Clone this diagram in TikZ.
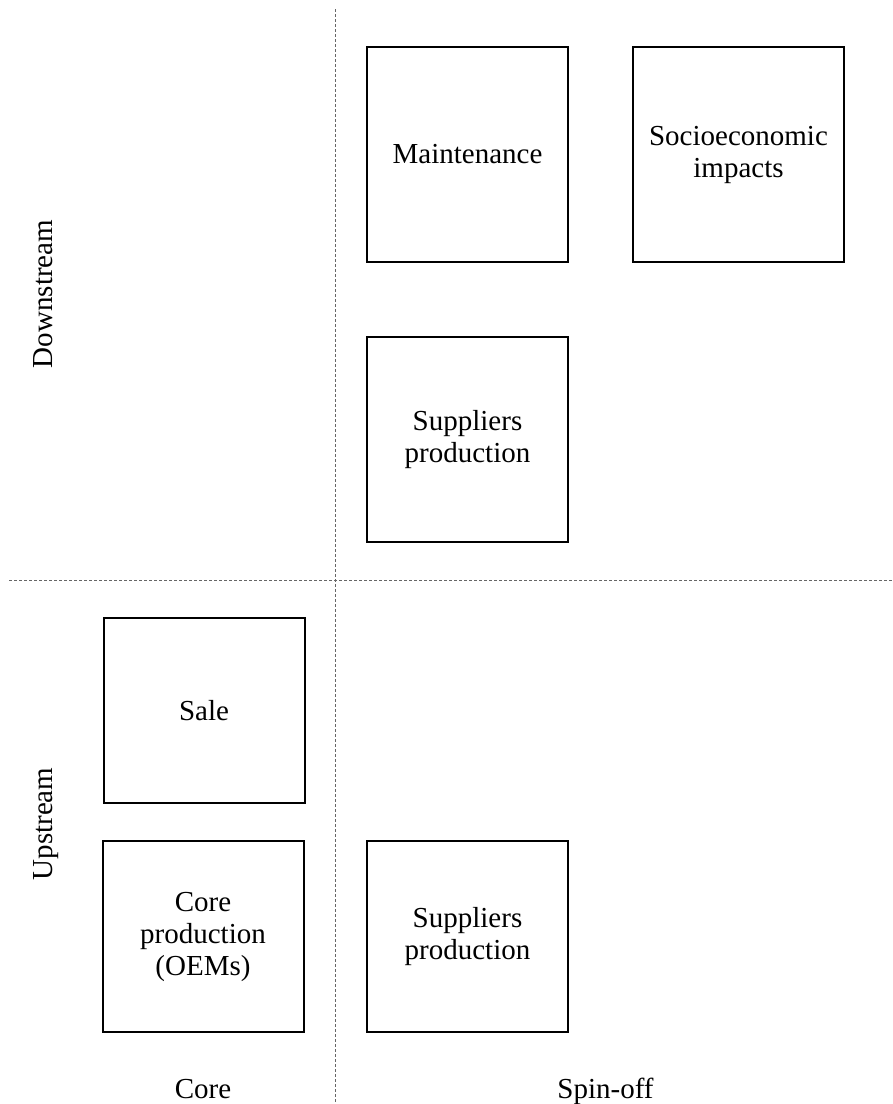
\documentclass[tikz,border=0pt]{standalone}
\usepackage{fontspec}
\setmainfont{Liberation Serif}

\begin{document}
\begin{tikzpicture}[x=0.5pt, y=-0.5pt,
	stagebox/.style={draw, line width=1pt, align=center, inner sep=0pt, minimum width=100.5pt, font=\fontsize{14.5}{16}\selectfont},
	axislabel/.style={font=\fontsize{14.5}{16}\selectfont, inner sep=0pt},
	divider/.style={draw=black!60, line width=0.5pt, dash pattern=on 1.7pt off 0.8pt}]
	\useasboundingbox (0,0) rectangle (893,1104);
	\coordinate(Vtop) at (335,9);
	\coordinate(Vbot) at (335,1104);
	\coordinate(Hleft) at (9,580);
	\coordinate(Hright) at (893,580);
	\draw[divider] (Vtop) -- (Vbot);
	\draw[divider] (Hleft) -- (Hright);
	\node[stagebox, minimum height=107.5pt](M) at (467.5,154.5){Maintenance};
	\node[stagebox, minimum height=107.5pt, minimum width=105.5pt](S) at (738.5,154.5){Socioeconomic\\impacts};
	\node[stagebox, minimum height=102.5pt](SPd) at (467.5,439.5){Suppliers\\production};
	\node[stagebox, minimum height=92.5pt](SA) at (204,710.5){Sale};
	\node[stagebox, minimum height=95.5pt](CP) at (203,936.5){Core\\production\\(OEMs)};
	\node[stagebox, minimum height=95.5pt](SPu) at (467.5,936.5){Suppliers\\production};
	\node[axislabel, rotate=90, anchor=base](DS) at (53,294){Downstream};
	\node[axislabel, rotate=90, anchor=base](US) at (53,824){Upstream};
	\node[axislabel, anchor=base](CO) at (203,1098){Core};
	\node[axislabel, anchor=base](SO) at (605.5,1098){Spin-off};
\end{tikzpicture}
\end{document}
